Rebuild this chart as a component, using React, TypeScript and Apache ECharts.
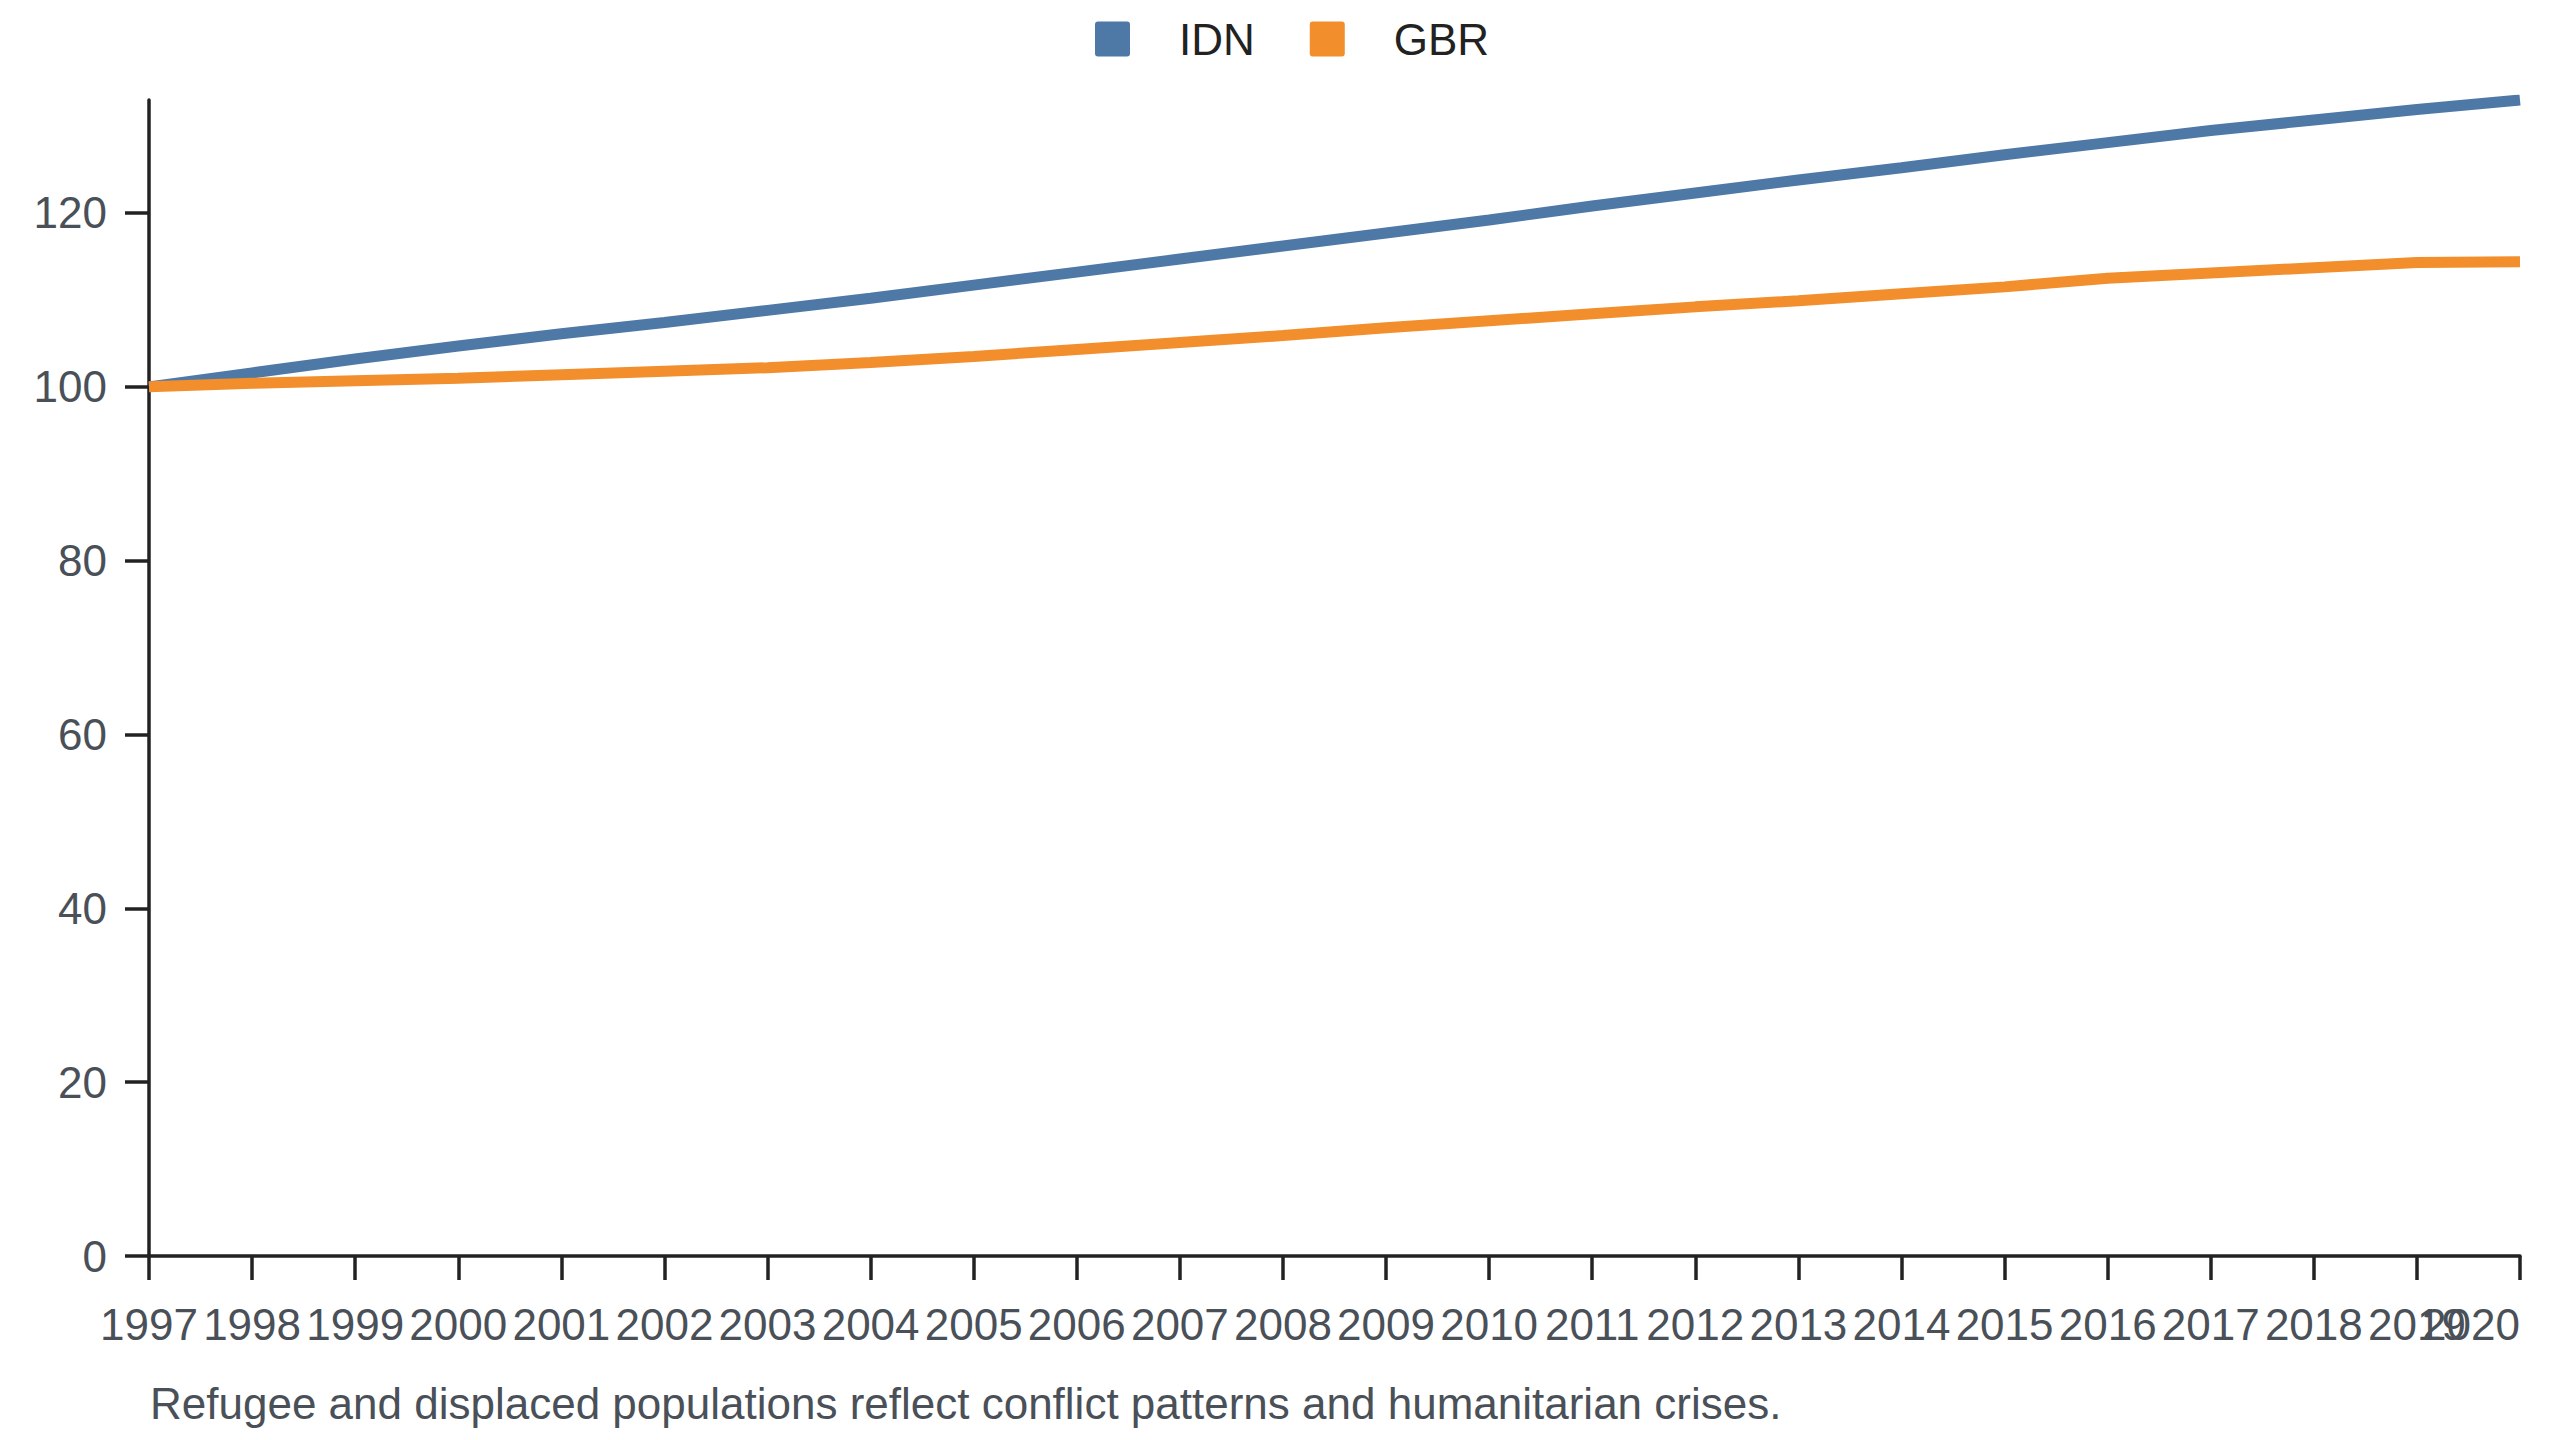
import React, { useEffect, useRef } from "react";
import * as echarts from "echarts";

const years = [
  "1997", "1998", "1999", "2000", "2001", "2002", "2003", "2004", "2005", "2006", "2007", "2008",
  "2009", "2010", "2011", "2012", "2013", "2014", "2015", "2016", "2017", "2018", "2019", "2020",
];
const idn = [
  100, 101.6, 103.2, 104.7, 106.1, 107.4, 108.8, 110.2, 111.7, 113.2, 114.7, 116.2,
  117.7, 119.2, 120.8, 122.3, 123.8, 125.2, 126.7, 128.1, 129.5, 130.7, 131.9, 133.0,
];
const gbr = [
  100, 100.4, 100.7, 101.0, 101.4, 101.8, 102.2, 102.8, 103.5, 104.3, 105.1, 105.9,
  106.8, 107.6, 108.4, 109.2, 109.9, 110.7, 111.5, 112.5, 113.1, 113.7, 114.3, 114.4,
];
const seriesNames = ["IDN", "GBR"];
const caption = "Refugee and displaced populations reflect conflict patterns and humanitarian crises.";

const FONT = "'Liberation Sans', Arial, Helvetica, sans-serif";
const ICON = "path://M3,0H32Q35,0 35,3V32Q35,35 32,35H3Q0,35 0,32V3Q0,0 3,0Z";

export default function App() {
  const ref = useRef<HTMLDivElement>(null);
  useEffect(() => {
    document.body.style.margin = "0";
    if (!ref.current) return;
    const chart = echarts.init(ref.current, null, { renderer: "svg" });
    chart.setOption({
      animation: false,
      backgroundColor: "#ffffff",
      textStyle: { fontFamily: FONT },
      color: ["#4e79a7", "#f28e2b"],
      legend: {
        data: seriesNames,
        left: 1090,
        top: 12,
        icon: ICON,
        itemWidth: 35,
        itemHeight: 35,
        itemGap: 55,
        textStyle: {
          fontSize: 44,
          color: "#222222",
          fontFamily: FONT,
          padding: [0, 0, 0, 44],
        },
      },
      grid: { left: 149, right: 40, top: 100, bottom: 184, containLabel: false },
      xAxis: {
        type: "category",
        data: years,
        boundaryGap: false,
        axisLine: { show: true, lineStyle: { color: "#222222", width: 3.5 } },
        axisTick: { show: true, alignWithLabel: true, interval: 0, length: 24, lineStyle: { color: "#222222", width: 3.5 } },
        axisLabel: {
          interval: 0,
          hideOverlap: false,
          alignMaxLabel: "right",
          fontSize: 44,
          color: "#4a5058",
          margin: 46,
          fontFamily: FONT,
        },
        splitLine: { show: false },
      },
      yAxis: {
        type: "value",
        min: 0,
        max: (v: any) => v.max,
        interval: 20,
        axisLine: { show: true, lineStyle: { color: "#222222", width: 3.5 } },
        axisTick: { show: true, length: 24, lineStyle: { color: "#222222", width: 3.5 } },
        axisLabel: { fontSize: 44, color: "#4a5058", margin: 42, fontFamily: FONT, showMaxLabel: false },
        splitLine: { show: false },
      },
      graphic: [
        {
          type: "text",
          left: 150,
          top: 1381,
          style: { text: caption, fontSize: 44, fill: "#4a5058", fontFamily: FONT },
        },
      ],
      series: [
        {
          name: seriesNames[0],
          type: "line",
          data: idn,
          showSymbol: false,
          symbol: "none",
          lineStyle: { width: 11, color: "#4e79a7" },
          itemStyle: { color: "#4e79a7" },
        },
        {
          name: seriesNames[1],
          type: "line",
          data: gbr,
          showSymbol: false,
          symbol: "none",
          lineStyle: { width: 11, color: "#f28e2b" },
          itemStyle: { color: "#f28e2b" },
        },
      ],
    });
    return () => chart.dispose();
  }, []);
  return <div ref={ref} style={{ width: 2560, height: 1440 }} />;
}
